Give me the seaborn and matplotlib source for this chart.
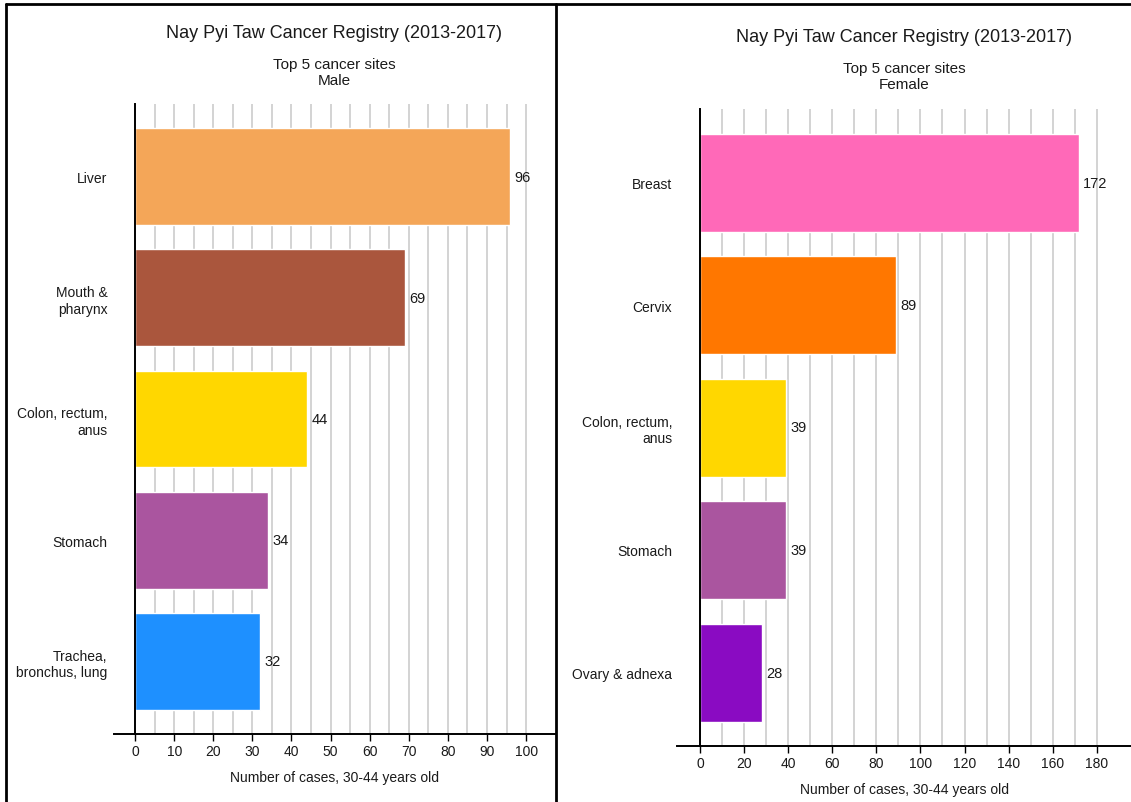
import matplotlib
matplotlib.use("Agg")
import matplotlib.pyplot as plt
from matplotlib.lines import Line2D
from matplotlib.ticker import FixedLocator
import pandas as pd
import seaborn as sns

# ── Data ────────────────────────────────────────────────────────────────────
male_sites = ["Liver", "Mouth &\npharynx", "Colon, rectum,\nanus", "Stomach",
              "Trachea,\nbronchus, lung"]
male_cases = [96, 69, 44, 34, 32]
male_colors = ["#F4A658", "#AA563D", "#FFD700", "#AA559F", "#1E90FF"]

female_sites = ["Breast", "Cervix", "Colon, rectum,\nanus", "Stomach",
                "Ovary & adnexa"]
female_cases = [172, 89, 39, 39, 28]
female_colors = ["#FF69B8", "#FF7700", "#FFD700", "#AA559F", "#8A0BC2"]

TITLE = "Nay Pyi Taw Cancer Registry (2013-2017)"
XLABEL = "Number of cases, 30-44 years old"
TEXT = "#1a1a1a"

sns.set_style("white")
plt.rcParams["font.family"] = ["Liberation Sans", "DejaVu Sans"]

fig = plt.figure(figsize=(11.31, 8.03), dpi=100)


def panel(rect, sites, cases, colors, sex, xlim, xmax, major, minor, title_px):
    ax = fig.add_axes(rect)
    df = pd.DataFrame({"site": sites, "cases": cases})
    sns.barplot(data=df, x="cases", y="site", hue="site", palette=colors,
                orient="h", width=0.8, legend=False, saturation=1, ax=ax)
    for c in ax.containers:
        ax.bar_label(c, padding=3, fontsize=10.5, color=TEXT)

    ax.set_xlim(*xlim)
    ax.set_ylim(4.6, -0.6)
    ax.xaxis.set_major_locator(FixedLocator(list(range(0, xmax + 1, major))))
    ax.xaxis.set_minor_locator(FixedLocator(list(range(0, xmax + 1, minor))))
    ax.grid(axis="x", which="both", color="#c8c8c8", lw=1.1)
    ax.grid(axis="y", visible=False)
    ax.set_axisbelow(True)

    for s in ("top", "right"):
        ax.spines[s].set_visible(False)
    ax.spines["left"].set_position(("data", 0))
    ax.spines["left"].set_color("black")
    ax.spines["left"].set_linewidth(1.4)
    ax.spines["bottom"].set_color("black")
    ax.spines["bottom"].set_linewidth(1.4)

    ax.tick_params(axis="x", which="major", length=5, width=1, color="black",
                   direction="out", bottom=True, labelsize=10, labelcolor=TEXT, pad=2)
    ax.tick_params(axis="x", which="minor", length=0)
    ax.tick_params(axis="y", length=0, pad=20, labelsize=10, labelcolor=TEXT)

    ax.set_ylabel("")
    ax.set_xlabel(XLABEL, fontsize=10, color=TEXT, labelpad=9)

    cx = rect[0] + rect[2] / 2
    fig.text(cx, 1 - title_px / 803, TITLE, ha="center", va="center",
             fontsize=13, color=TEXT)
    fig.text(cx, 1 - (title_px + 24) / 803, "Top 5 cancer sites\n" + sex,
             ha="center", va="top", fontsize=11, color=TEXT, linespacing=1.15)
    return ax


panel([114 / 1131, 1 - 735 / 803, 441 / 1131, 630 / 803],
      male_sites, male_cases, male_colors, "Male",
      (-5.4, 107.4), 100, 10, 5, 34)
panel([677 / 1131, 1 - 747 / 803, 454 / 1131, 637 / 803],
      female_sites, female_cases, female_colors, "Female",
      (-10.4, 195.5), 180, 20, 10, 38)

# panel frames
frame = dict(transform=fig.transFigure, color="black", lw=2)
fig.add_artist(Line2D([6 / 1131, 6 / 1131], [0, 1 - 5 / 803], **frame))
fig.add_artist(Line2D([6 / 1131, 1], [1 - 5 / 803, 1 - 5 / 803], **frame))
fig.add_artist(Line2D([556 / 1131, 556 / 1131], [0, 1 - 5 / 803], **frame))

fig.savefig("out.png", dpi=100)
plt.close(fig)
